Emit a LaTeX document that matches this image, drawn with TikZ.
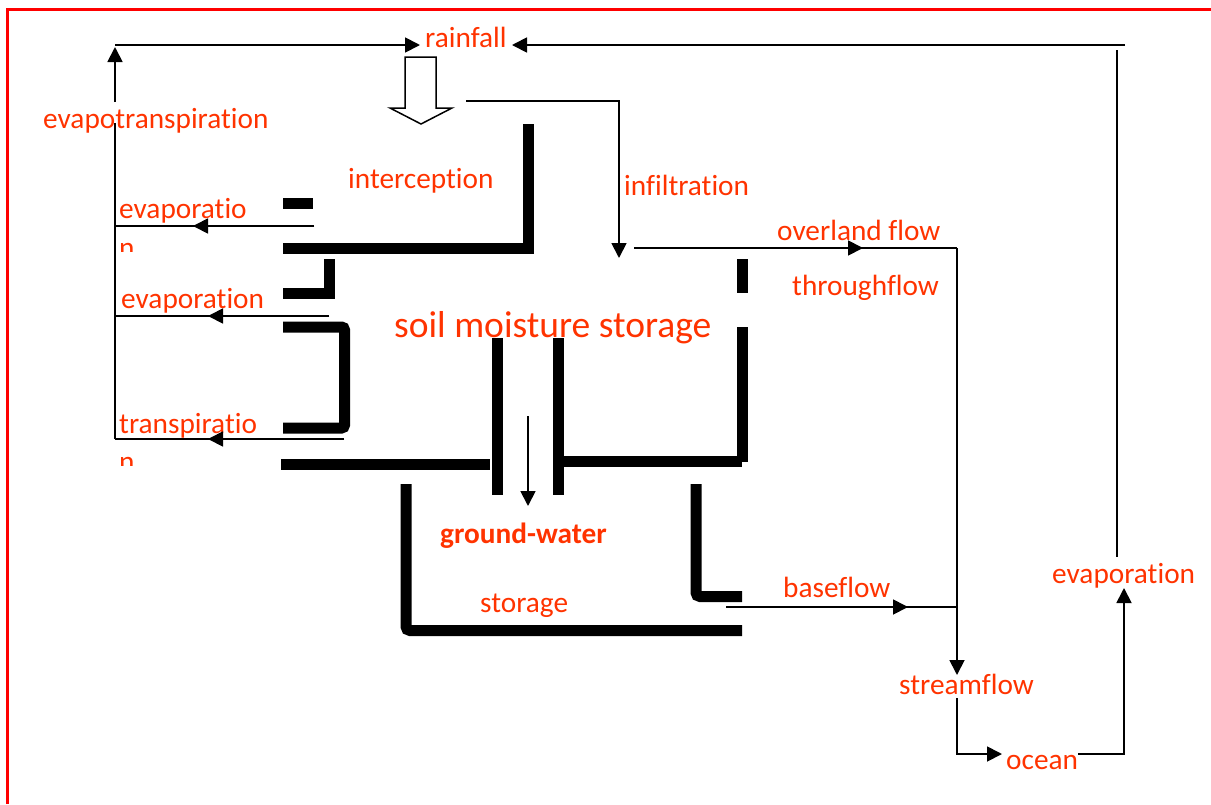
\documentclass[tikz,border=0pt]{standalone}
\usepackage{fontspec}
\setmainfont{Carlito}[Ligatures=CommonOff]
\usetikzlibrary{arrows.meta}
\definecolor{lab}{RGB}{255,51,0}
\begin{document}
\begin{tikzpicture}[x=1pt,y=-1pt,
  lbl/.style={text=lab, font=\fontsize{29.3}{34}\selectfont, inner sep=0pt, anchor=base west},
  biglbl/.style={lbl, font=\fontsize{37.5}{44}\selectfont},
  thinline/.style={line width=1.8pt, draw=black},
  wall/.style={line width=11pt, draw=black, line join=miter},
  tip/.style={-{Triangle[length=15pt,width=15pt]}}
]
\useasboundingbox (0,0) rectangle (1211,804);
% red frame
\draw[red, line width=3pt] (7,804) -- (7,9) -- (1211,9);

% labels
\node[lbl] (rain) at (425,47) {rainfall};
\node[lbl] (evt) at (43,128) {evapotranspiration};
\node[lbl] (intc) at (348,188) {interception};
\node[lbl] (infl) at (624,195) {infiltration};
\node[lbl] (ev1) at (119,218) {evaporatio};
\begin{scope}
  \clip (100,236) rectangle (300,251);
  \node[lbl] (ev1n) at (119,257) {n};
\end{scope}
\node[lbl] (ev2) at (121,308) {evaporation};
\node[lbl] (tr) at (119,433) {transpiratio};
\begin{scope}
  \clip (100,450) rectangle (300,465);
  \node[lbl] (trn) at (119,471.5) {n};
\end{scope}
\node[biglbl] (soil) at (394,337) {soil moisture storage};
\node[lbl] (ovl) at (777,240) {overland flow};
\node[lbl] (thr) at (792,295) {throughflow};
\node[lbl, font=\fontsize{29.3}{34}\selectfont\bfseries] (gw) at (440,543) {ground-water};
\node[lbl] (sto) at (480,612) {storage};
\node[lbl] (base) at (783,597) {baseflow};
\node[lbl] (strm) at (899,694) {streamflow};
\node[lbl] (ocean) at (1006,769) {ocean};
\node[lbl] (ev3) at (1052,583) {evaporation};

% coordinates
\coordinate (tl) at (115,45);
\coordinate (rainL) at (420,45);
\coordinate (rainR) at (512,45);
\coordinate (tr1) at (1125,45);
\coordinate (rv1) at (1117,50);
\coordinate (rv2) at (1117,557);
\coordinate (lvtop) at (115,47);
\coordinate (lvgapT) at (115,102);
\coordinate (lvgapB) at (115,123);
\coordinate (lvbot) at (115,439);
\coordinate (e1s) at (314,226);
\coordinate (e1m) at (193,226);
\coordinate (e1e) at (115,226);
\coordinate (e2s) at (329,316);
\coordinate (e2m) at (208,316);
\coordinate (e2e) at (115,316);
\coordinate (e3s) at (344,439);
\coordinate (e3m) at (208,439);
\coordinate (if1) at (466,101);
\coordinate (if2) at (619,101);
\coordinate (if3) at (619,258);
\coordinate (ov1) at (634,248);
\coordinate (ovm) at (863,248);
\coordinate (ov2) at (957,248);
\coordinate (sfT) at (957,675);
\coordinate (bf1) at (726,607);
\coordinate (bfm) at (908,607);
\coordinate (bf2) at (957,607);
\coordinate (sfB) at (957,698);
\coordinate (oc1) at (957,754);
\coordinate (ocL) at (1002,754);
\coordinate (ocR) at (1078,754);
\coordinate (oc2) at (1124,754);
\coordinate (evB) at (1124,588);
\coordinate (gw1) at (528,416);
\coordinate (gw2) at (528,506);

% thin connectors
\draw[thinline, tip] (tl) -- (rainL);
\draw[thinline, tip] (tr1) -- (rainR);
\draw[thinline] (rv1) -- (rv2);
\draw[thinline, tip] (lvgapT) -- (lvtop);
\draw[thinline] (lvbot) -- (lvgapB);
\draw[thinline] (e1s) -- (e1e);
\draw[thinline, tip] (e1s) -- (e1m);
\draw[thinline] (e2s) -- (e2e);
\draw[thinline, tip] (e2s) -- (e2m);
\draw[thinline] (e3s) -- (lvbot);
\draw[thinline, tip] (e3s) -- (e3m);
\draw[thinline, tip] (if1) -- (if2) -- (if3);
\draw[thinline] (ov1) -- (ov2);
\draw[thinline, tip] (ov1) -- (ovm);
\draw[thinline, tip] (ov2) -- (sfT);
\draw[thinline] (bf1) -- (bf2);
\draw[thinline, tip] (bf1) -- (bfm);
\draw[thinline, tip] (sfB) -- (oc1) -- (ocL);
\draw[thinline, tip] (ocR) -- (oc2) -- (evB);
\draw[thinline, tip] (gw1) -- (gw2);

% hollow rainfall arrow
\draw[line width=1.5pt, fill=white] (405,57) -- (436,57) -- (436,108) -- (452,108) -- (421,124) -- (390,108) -- (405,108) -- cycle;

% thick walls
\draw[wall] (283,203) -- (313,203);
\draw[wall] (283,248) -- (528,248) -- (528,124);
\draw[wall] (283,293) -- (329,293) -- (329,259);
\draw[wall, rounded corners=3pt] (283,327) -- (344.5,327) -- (344.5,428) -- (283,428);
\draw[wall] (281,464) -- (490,464);
\draw[wall] (497,338) -- (497,495);
\draw[wall] (558.5,338) -- (558.5,495);
\draw[wall] (558.5,461.5) -- (742,461.5);
\draw[wall] (742,462) -- (742,327);
\draw[wall] (742,259) -- (742,293);
\draw[wall, rounded corners=4pt] (406,484) -- (406,630.5) -- (742,630.5);
\draw[wall, rounded corners=4pt] (696,484) -- (696,596.5) -- (742,596.5);
\end{tikzpicture}
\end{document}
